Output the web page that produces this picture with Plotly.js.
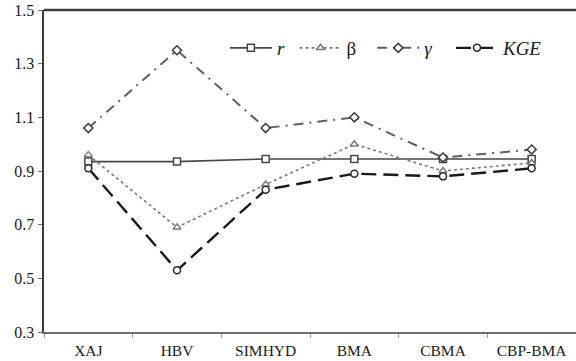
<!DOCTYPE html>
<html>
<head>
<meta charset="utf-8">
<script src="https://cdn.plot.ly/plotly-3.0.1.min.js"></script>
<style>
  html, body { margin: 0; padding: 0; background: #fff; }
  #chart { width: 576px; height: 361px; }
</style>
</head>
<body>
<div id="chart"></div>
<script>
// Model names along the x axis
const models = ['XAJ', 'HBV', 'SIMHYD', 'BMA', 'CBMA', 'CBP-BMA'];

// KGE components and the KGE score for each model
const rValues = [0.935, 0.935, 0.945, 0.945, 0.945, 0.945];
const betaValues = [0.96, 0.69, 0.85, 1.00, 0.90, 0.93];
const gammaValues = [1.06, 1.35, 1.06, 1.10, 0.95, 0.98];
const kgeValues = [0.91, 0.53, 0.83, 0.89, 0.88, 0.91];

const yTicks = [0.3, 0.5, 0.7, 0.9, 1.1, 1.3, 1.5];
const yTickText = ['0.3', '0.5', '0.7', '0.9', '1.1', '1.3', '1.5'];

const serif = 'Times New Roman';

// Each series gets its own single-entry legend so the row keeps even spacing
function series(name, y, lineStyle, symbol, markerColor, legendId) {
  return {
    type: 'scatter',
    mode: 'lines+markers',
    name: name,
    legend: legendId,
    x: models,
    y: y,
    line: lineStyle,
    marker: {
      symbol: symbol,
      size: 7,
      color: '#ffffff',
      line: { color: markerColor, width: 1.5 }
    }
  };
}

const traces = [
  series('<i>r</i>', rValues, { color: '#474747', width: 1.6, dash: 'solid' }, 'square', '#474747', 'legend'),
  series('β', betaValues, { color: '#7a7a7a', width: 1.6, dash: 'dot' }, 'triangle-up', '#7a7a7a', 'legend2'),
  series('<i>γ</i>', gammaValues, { color: '#606060', width: 2, dash: '10px,6px,2px,6px' }, 'diamond', '#3a3a3a', 'legend3'),
  series('<i>KGE</i>', kgeValues, { color: '#1a1a1a', width: 2.4, dash: '15px,7px' }, 'circle', '#2a2a2a', 'legend4')
];

function legendAt(x) {
  return {
    x: x,
    y: 0.882,
    xanchor: 'left',
    yanchor: 'middle',
    bgcolor: 'rgba(0,0,0,0)',
    font: { family: serif, size: 19, color: '#1a1a1a' },
    itemwidth: 42
  };
}

const layout = {
  width: 576,
  height: 361,
  margin: { l: 44, r: 0, t: 10, b: 29 },
  paper_bgcolor: '#ffffff',
  plot_bgcolor: '#ffffff',
  font: { family: serif, color: '#1a1a1a' },
  showlegend: true,
  legend: legendAt(0.340),
  legend2: legendAt(0.471),
  legend3: legendAt(0.617),
  legend4: legendAt(0.765),
  xaxis: {
    type: 'category',
    range: [-0.5, 5.5],
    showgrid: false,
    zeroline: false,
    showline: true,
    linecolor: '#6e6e6e',
    linewidth: 2,
    ticks: 'outside',
    tickson: 'boundaries',
    ticklen: 4,
    tickcolor: '#9a9a9a',
    ticklabelstandoff: 3,
    tickfont: { family: serif, size: 15.5, color: '#1a1a1a' }
  },
  yaxis: {
    range: [0.3, 1.5],
    tickvals: yTicks,
    ticktext: yTickText,
    showgrid: false,
    zeroline: false,
    showline: true,
    linecolor: '#3c3c3c',
    linewidth: 2.5,
    ticks: 'outside',
    ticklen: 4,
    tickcolor: '#6e6e6e',
    tickfont: { family: serif, size: 16, color: '#1a1a1a' }
  },
  shapes: [
    {
      type: 'line',
      xref: 'paper', yref: 'paper',
      x0: 0, x1: 1, y0: 1, y1: 1,
      line: { color: '#3c3c3c', width: 2.5 }
    }
  ]
};

Plotly.newPlot('chart', traces, layout, { displayModeBar: false, staticPlot: true });
</script>
</body>
</html>
